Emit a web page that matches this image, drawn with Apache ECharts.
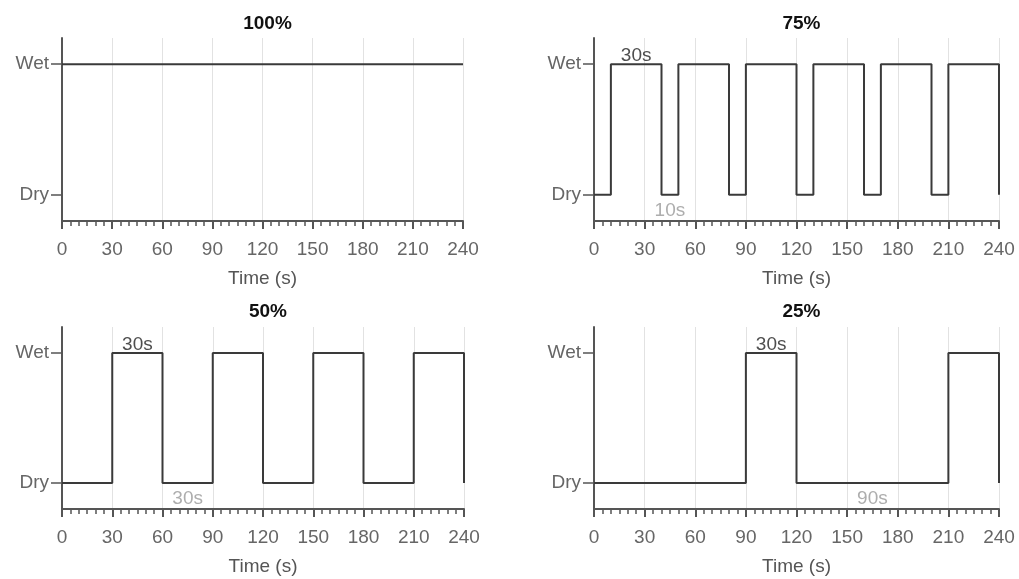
<!DOCTYPE html>
<html>
<head>
<meta charset="utf-8">
<script src="https://cdn.jsdelivr.net/npm/echarts@6/dist/echarts.min.js"></script>
<style>html,body{margin:0;padding:0;background:#fff;}#c{width:1019px;height:579px;}</style>
</head>
<body>
<div id="c"></div>
<script>
// ---- data ----
var panelTitles = ['100%', '75%', '50%', '25%'];
var xTicks = [0, 30, 60, 90, 120, 150, 180, 210, 240];
var yStateLabels = ['Dry', 'Wet'];  // 0 = Dry, 1 = Wet

var times100 = [0, 240];
var states100 = [1, 1];
var times75 = [0, 10, 40, 50, 80, 90, 120, 130, 160, 170, 200, 210, 240];
var states75 = [0, 1, 0, 1, 0, 1, 0, 1, 0, 1, 0, 1, 0];
var times50 = [0, 30, 60, 90, 120, 150, 180, 210, 240];
var states50 = [0, 1, 0, 1, 0, 1, 0, 1, 0];
var times25 = [0, 90, 120, 210, 240];
var states25 = [0, 1, 0, 1, 0];

// annotations: [x, state, text]
var wetNotes75 = [[25, 1, '30s']];
var dryNotes75 = [[45, 0, '10s']];
var wetNotes50 = [[45, 1, '30s']];
var dryNotes50 = [[75, 0, '30s']];
var wetNotes25 = [[105, 1, '30s']];
var dryNotes25 = [[165, 0, '90s']];

// ---- layout ----
var FONT = '"Liberation Sans", Arial, sans-serif';
var FS = 19;
var grids = [
  {left: 62, top: 38, width: 401, height: 183},
  {left: 594, top: 38, width: 405, height: 183},
  {left: 62, top: 327, width: 402, height: 182},
  {left: 594, top: 327, width: 405, height: 182}
];
var titleY = [9, 9, 297, 297];

var panels = [
  {t: times100, s: states100, wet: [], dry: []},
  {t: times75, s: states75, wet: wetNotes75, dry: dryNotes75},
  {t: times50, s: states50, wet: wetNotes50, dry: dryNotes50},
  {t: times25, s: states25, wet: wetNotes25, dry: dryNotes25}
];

var axisCol = '#555';
var labelCol = '#666';

var option = {
  animation: false,
  backgroundColor: '#fff',
  textStyle: {fontFamily: FONT},
  title: [],
  grid: [],
  xAxis: [],
  yAxis: [],
  series: []
};

panels.forEach(function (p, i) {
  var g = grids[i];
  option.grid.push({left: g.left, top: g.top, width: g.width, height: g.height, containLabel: false});
  option.title.push({
    text: panelTitles[i],
    left: g.left + g.width / 2,
    top: titleY[i],
    textAlign: 'center',
    textStyle: {fontFamily: FONT, fontSize: FS, fontWeight: 'bold', color: '#111'}
  });
  option.xAxis.push({
    type: 'value', gridIndex: i, min: xTicks[0], max: xTicks[xTicks.length - 1], interval: 30,
    name: 'Time (s)', nameLocation: 'middle', nameGap: 48,
    nameTextStyle: {fontFamily: FONT, fontSize: FS, color: '#555'},
    axisLine: {show: true, onZero: false, lineStyle: {color: axisCol, width: 2}},
    axisTick: {show: true, length: 8, lineStyle: {color: axisCol, width: 2}},
    minorTick: {show: true, splitNumber: 6, length: 5, lineStyle: {color: axisCol, width: 1.5}},
    axisLabel: {show: true, margin: 19, fontFamily: FONT, fontSize: FS, color: labelCol,
      formatter: function (v) { return xTicks.indexOf(v) >= 0 ? String(v) : ''; }},
    splitLine: {show: true, lineStyle: {color: '#e2e2e2', width: 1}},
    minorSplitLine: {show: false}
  });
  option.yAxis.push({
    type: 'value', gridIndex: i, min: -0.2, max: 1.2,
    axisLine: {show: true, onZero: false, lineStyle: {color: axisCol, width: 2}},
    axisTick: {show: true, length: 11, customValues: [0, 1], lineStyle: {color: axisCol, width: 1.5}},
    axisLabel: {show: true, margin: 13, fontFamily: FONT, fontSize: FS, color: labelCol,
      customValues: [0, 1],
      formatter: function (v) { return yStateLabels[Math.round(v)]; }},
    splitLine: {show: false}
  });
  var pts = p.t.map(function (t, k) { return [t, p.s[k]]; });
  option.series.push({
    type: 'line', xAxisIndex: i, yAxisIndex: i, data: pts, step: 'end',
    symbol: 'none', lineStyle: {color: '#3a3a3a', width: 2}, z: 5
  });
  if (p.wet.length) {
    option.series.push({
      type: 'scatter', xAxisIndex: i, yAxisIndex: i, symbolSize: 0,
      data: p.wet.map(function (d) { return {value: [d[0], d[1]], name: d[2]}; }),
      label: {show: true, position: 'top', distance: -1, formatter: '{b}',
        fontFamily: FONT, fontSize: FS, color: '#222'},
      silent: true, z: 6
    });
  }
  if (p.dry.length) {
    option.series.push({
      type: 'scatter', xAxisIndex: i, yAxisIndex: i, symbolSize: 0,
      data: p.dry.map(function (d) { return {value: [d[0], d[1]], name: d[2]}; }),
      label: {show: true, position: 'bottom', distance: 6, formatter: '{b}',
        fontFamily: FONT, fontSize: FS, color: '#999'},
      silent: true, z: 6
    });
  }
});

var chart = echarts.init(document.getElementById('c'), null, {renderer: 'canvas'});
chart.setOption(option);
</script>
</body>
</html>
